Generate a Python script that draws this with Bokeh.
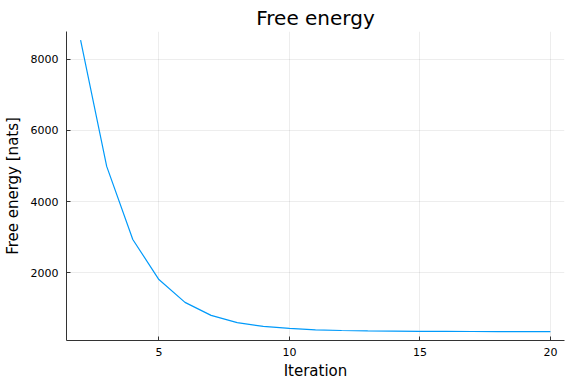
from bokeh.plotting import figure
from bokeh.models import FixedTicker, Range1d
from bokeh.embed import file_html
from bokeh.resources import INLINE

iterations = list(range(2, 21))
free_energy = [8530, 4990, 2940, 1815, 1175, 810, 605, 500, 445, 405, 385,
               375, 368, 363, 360, 358, 356, 354, 352]
x_ticks = [5, 10, 15, 20]
y_ticks = [2000, 4000, 6000, 8000]

FONT = "DejaVu Sans"

p = figure(frame_width=498, frame_height=309, output_backend="svg",
           toolbar_location=None, title="Free energy",
           x_range=Range1d(1.46, 20.54), y_range=Range1d(105, 8775),
           min_border_left=61, min_border_right=2, min_border_top=31,
           min_border_bottom=38)

p.line(iterations, free_energy, line_color="#009AFA", line_width=1.2)

p.title.align = "center"
p.title.text_font = FONT
p.title.text_font_size = "20px"
p.title.text_font_style = "normal"
p.title.text_color = "black"
p.title.standoff = 4
p.title.offset = 0

p.outline_line_color = None

p.xaxis.ticker = FixedTicker(ticks=x_ticks)
p.yaxis.ticker = FixedTicker(ticks=y_ticks)
p.xaxis.axis_label = "Iteration"
p.yaxis.axis_label = "Free energy [nats]"

for ax in (p.xaxis, p.yaxis):
    ax.axis_label_text_font = FONT
    ax.axis_label_text_font_size = "15px"
    ax.axis_label_text_font_style = "normal"
    ax.axis_label_text_color = "black"
    ax.major_label_text_font = FONT
    ax.major_label_text_font_size = "11px"
    ax.major_label_text_color = "black"
    ax.axis_line_color = "#333333"
    ax.axis_line_width = 1
    ax.major_tick_line_color = "#333333"
    ax.major_tick_in = 4
    ax.major_tick_out = 0
    ax.minor_tick_line_color = None

p.xaxis.major_label_standoff = 7
p.xaxis.axis_label_standoff = 3
p.yaxis.major_label_standoff = 8
p.yaxis.axis_label_standoff = 6

p.grid.grid_line_color = "black"
p.grid.grid_line_alpha = 0.07
p.grid.grid_line_width = 1

p.background_fill_color = "white"
p.border_fill_color = "white"

open("out.html", "w").write(file_html(p, INLINE))
